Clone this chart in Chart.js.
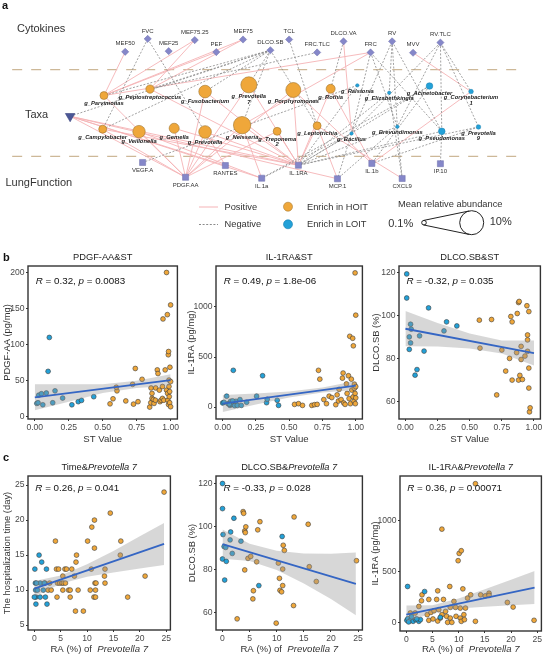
<!DOCTYPE html>
<html>
<head>
<meta charset="utf-8">
<script src="https://cdn.jsdelivr.net/npm/chart.js@4.4.1/dist/chart.umd.min.js"></script>
<style>
  html, body { margin: 0; padding: 0; background: #fff; }
  #wrap { position: relative; width: 546px; height: 656px; overflow: hidden; font-family: "Liberation Sans", Arial, sans-serif; }
  canvas { position: absolute; }
  .tag { position: absolute; font-weight: bold; font-size: 11px; line-height: 11px; color: #111; }
</style>
</head>
<body>
<div id="wrap">
  <canvas id="net" width="546" height="246" style="left:0;top:0"></canvas>
  <canvas id="p1"></canvas>
  <canvas id="p2"></canvas>
  <canvas id="p3"></canvas>
  <canvas id="p4"></canvas>
  <canvas id="p5"></canvas>
  <canvas id="p6"></canvas>
  <div class="tag" style="left:2px;top:0px">a</div>
  <div class="tag" style="left:3px;top:252px">b</div>
  <div class="tag" style="left:3px;top:452px">c</div>
</div>
<script>
// ── Network nodes (layout) ────────────────────────────────────────────
const topNames = ['MEF50', 'FVC', 'MEF25', 'MEF75.25', 'PEF', 'MEF75', 'DLCO.SB', 'TCL', 'FRC.TLC', 'DLCO.VA', 'FRC', 'RV', 'MVV', 'RV.TLC'];
const topX = [120, 143.3, 165, 192, 214.3, 242, 270.3, 289.7, 318.7, 346, 374, 396.3, 418, 446.3];
const topY = [46, 32, 45.3, 33.3, 46.3, 32.7, 44.3, 32.7, 46.7, 34.7, 46.7, 34.7, 47, 36];

const botNames = ['VEGF.A', 'PDGF.AA', 'RANTES', 'IL.1a', 'IL.1RA', 'MCP.1', 'IL.1b', 'CXCL9', 'IP.10'];
const botX = [138, 182.5, 223.7, 261.3, 299.3, 339.7, 375.3, 406.7, 446.3];
const botY = [165.7, 181.7, 169, 182.7, 168.7, 183.3, 166.7, 183, 167];

const taxaNames = ['Parvimonas', 'Peptostreptococcus', 'Fusobacterium', 'Prevotella 7', 'Porphyromonas', 'Rothia',
  'Ralstonia', 'Elizabethkingia', 'Acinetobacter', 'Corynebacterium 1',
  'Campylobacter', 'Veillonella', 'Gemella', 'Prevotella', 'Neisseria', 'Treponema 2', 'Leptotrichia',
  'Bacillus', 'Brevundimonas', 'Pseudomonas', 'Prevotella 9'];
const taxaX = [98, 145.7, 202.7, 248, 294, 332.7, 360.3, 393.3, 435, 478, 96.7, 134.3, 170.7, 202.7, 241, 277.3, 318.7, 354.3, 401.7, 447.7, 485.7];
const taxaY = [93.3, 86.3, 89, 81.7, 87.3, 86, 82.3, 90.3, 83, 89, 129.7, 132.3, 128.7, 132.7, 125.3, 132, 126, 134.3, 127, 132, 127.3];
const taxaAbund = [2.4, 2.6, 4.6, 6.2, 5.7, 2.9, 0.28, 0.28, 1.8, 0.84, 2.4, 4.5, 3.4, 4.6, 6.8, 2.4, 2.4, 0.28, 0.28, 1.8, 0.84];
const taxaGroup = ['H', 'H', 'H', 'H', 'H', 'H', 'L', 'L', 'L', 'L', 'H', 'H', 'H', 'H', 'H', 'H', 'H', 'L', 'L', 'L', 'L'];
const stNode = { name: 'ST', x: 63, y: 115.7 };

const posEdges = [
  ['MEF50', 'Parvimonas'], ['MEF75.25', 'Parvimonas'], ['PEF', 'Parvimonas'], ['MEF75', 'Parvimonas'],
  ['MEF75.25', 'Peptostreptococcus'], ['MEF75', 'Peptostreptococcus'], ['FRC', 'Parvimonas'],
  ['DLCO.VA', 'Bacillus'], ['MVV', 'Corynebacterium 1'], ['FRC', 'Neisseria'],
  ['ST', 'PDGF.AA'], ['ST', 'IL.1RA'], ['ST', 'RANTES'], ['ST', 'IL.1a'], ['ST', 'MCP.1'],
  ['Campylobacter', 'PDGF.AA'], ['Veillonella', 'PDGF.AA'], ['Veillonella', 'IL.1a'], ['Gemella', 'PDGF.AA'],
  ['Gemella', 'IL.1RA'], ['Prevotella', 'PDGF.AA'], ['Prevotella', 'IL.1RA'], ['Prevotella', 'RANTES'],
  ['Neisseria', 'IL.1RA'], ['Neisseria', 'IL.1a'], ['Neisseria', 'PDGF.AA'], ['Treponema 2', 'IL.1RA'],
  ['Treponema 2', 'PDGF.AA'], ['Leptotrichia', 'IL.1RA'], ['Leptotrichia', 'MCP.1'], ['Leptotrichia', 'CXCL9'],
  ['Porphyromonas', 'IL.1RA'], ['Porphyromonas', 'PDGF.AA'], ['Porphyromonas', 'IL.1b'],
  ['Prevotella 7', 'IL.1RA'], ['Prevotella 7', 'PDGF.AA'], ['Fusobacterium', 'IL.1RA'], ['Fusobacterium', 'PDGF.AA'],
  ['Parvimonas', 'PDGF.AA'], ['Peptostreptococcus', 'IL.1RA'], ['Rothia', 'IL.1b'], ['Rothia', 'IL.1RA'],
  ['Corynebacterium 1', 'IL.1b'], ['Campylobacter', 'IL.1RA']
];
const negEdges = [
  ['FVC', 'Campylobacter'], ['FVC', 'Prevotella'], ['DLCO.SB', 'Parvimonas'], ['DLCO.SB', 'Peptostreptococcus'],
  ['DLCO.SB', 'ST'], ['DLCO.SB', 'Fusobacterium'], ['DLCO.SB', 'Prevotella 7'], ['DLCO.SB', 'Neisseria'],
  ['DLCO.SB', 'Leptotrichia'], ['DLCO.SB', 'Campylobacter'], ['TCL', 'Leptotrichia'], ['FRC.TLC', 'Peptostreptococcus'],
  ['DLCO.VA', 'Rothia'], ['FRC', 'Bacillus'], ['FRC', 'Brevundimonas'], ['FRC', 'Pseudomonas'],
  ['RV', 'Bacillus'], ['RV', 'Brevundimonas'], ['RV', 'Pseudomonas'], ['RV', 'Elizabethkingia'],
  ['RV.TLC', 'Pseudomonas'], ['RV.TLC', 'Prevotella 9'], ['RV.TLC', 'Corynebacterium 1'], ['RV.TLC', 'Bacillus'],
  ['RV.TLC', 'Brevundimonas'],
  ['Ralstonia', 'VEGF.A'], ['Ralstonia', 'IL.1RA'], ['Bacillus', 'IL.1RA'], ['Brevundimonas', 'IL.1RA'],
  ['Pseudomonas', 'IL.1RA'], ['Prevotella 9', 'IL.1RA'], ['Acinetobacter', 'IL.1RA'], ['Elizabethkingia', 'IL.1RA'],
  ['Elizabethkingia', 'CXCL9'], ['Brevundimonas', 'CXCL9'], ['Brevundimonas', 'MCP.1'], ['Bacillus', 'MCP.1'],
  ['Pseudomonas', 'IP.10'], ['Acinetobacter', 'IL.1b'], ['Prevotella 9', 'IL.1b'], ['Bacillus', 'IL.1a'],
  ['Acinetobacter', 'IL.1a']
];

// ── Panel b: ST value ─────────────────────────────────────────────────
const stTicks = [0, 0.25, 0.5, 0.75, 1];
const stLabels = ['0.00', '0.25', '0.50', '0.75', '1.00'];

const pdgfLoX = [0.015, 0.024, 0.029, 0.049, 0.059, 0.085, 0.098, 0.107, 0.132, 0.149, 0.205, 0.273, 0.32, 0.344, 0.434];
const pdgfLoY = [18.6, 19.5, 30, 32, 16.7, 33, 63, 110, 19.5, 36, 26, 16.7, 21, 22.8, 27.9];
const pdgfHiX = [0.554, 0.576, 0.605, 0.60, 0.67, 0.727, 0.74, 0.76, 0.79, 0.846, 0.854, 0.856, 0.863, 0.863, 0.873, 0.878, 0.888, 0.89, 0.902, 0.907, 0.917, 0.922, 0.93, 0.94, 0.94, 0.944, 0.95, 0.96, 0.97, 0.976, 0.978, 0.98, 0.983, 0.985, 0.985, 0.988, 0.99, 0.993, 0.995, 1.0, 1.0, 1.0, 0.993, 0.988, 0.97, 0.72];
const pdgfHiY = [18, 25, 36, 41, 22, 17.6, 67, 21, 52, 13.5, 19.5, 40, 32.5, 25.5, 24, 18.6, 23, 40, 65, 60, 37, 21, 23, 42, 25.5, 135.6, 23, 65, 37, 141.6, 32.5, 23, 86, 90.5, 17, 51, 28, 19.5, 68.7, 14, 155, 48.8, 35, 42, 200, 45];
const pdgfFitX = [0, 1], pdgfFitY = [27, 51];
const pdgfBandX = [0, 0.25, 0.5, 0.75, 1];
const pdgfBandHi = [45, 45, 45, 50, 59], pdgfBandLo = [9, 21, 33, 40, 43];
const pdgfTicks = [0, 50, 100, 150, 200];

const ilLoX = [0, 0.01, 0.03, 0.04, 0.055, 0.06, 0.07, 0.08, 0.09, 0.1, 0.11, 0.13, 0.14, 0.18, 0.255, 0.3, 0.33, 0.335, 0.41, 0.42, 0.05, 0.075];
const ilLoY = [41, 48, 109, 34, 17, 58, 27, 367, 14, 58, 17, 75, 17, 48, 109, 313, 44, 78, 68, 17, 30, 62];
const ilHiX = [0.54, 0.57, 0.6, 0.67, 0.69, 0.71, 0.72, 0.73, 0.76, 0.78, 0.8, 0.82, 0.85, 0.86, 0.87, 0.875, 0.89, 0.9, 0.905, 0.91, 0.92, 0.93, 0.935, 0.945, 0.95, 0.955, 0.96, 0.967, 0.97, 0.977, 0.98, 0.982, 0.987, 0.99, 0.99, 0.995, 0.997, 1.0, 1.0, 1.0, 0.995];
const ilHiY = [27, 34, 17, 17, 24, 27, 367, 279, 75, 34, 109, 95, 24, 122, 61, 177, 75, 289, 340, 41, 27, 231, 136, 313, 85, 707, 34, 279, 170, 687, 102, 612, 58, 228, 187, 136, 34, 918, 204, 92, 1340];
const ilFitX = [0, 1], ilFitY = [35, 215];
const ilBandX = [0, 0.25, 0.5, 0.75, 1];
const ilBandHi = [120, 135, 155, 195, 260], ilBandLo = [-50, 25, 95, 145, 170];
const ilTicks = [0, 500, 1000];

const dlLoX = [0.01, 0.01, 0.04, 0.03, 0.04, 0.03, 0.045, 0.075, 0.09, 0.11, 0.145, 0.18, 0.3, 0.32, 0.4];
const dlLoY = [119.5, 108.3, 96.1, 90.2, 87.4, 84.4, 93.8, 72.4, 75, 90.7, 83.6, 103.7, 93, 97.2, 95.3];
const dlHiX = [0.575, 0.58, 0.67, 0.75, 0.71, 0.78, 0.81, 0.82, 0.83, 0.83, 0.865, 0.87, 0.88, 0.88, 0.885, 0.89, 0.9, 0.9, 0.91, 0.93, 0.945, 0.95, 0.95, 0.95, 0.96, 0.96, 0.96, 0.965, 0.97];
const dlHiY = [98, 85, 98.3, 84.1, 63.2, 74.3, 80.2, 99.7, 97.2, 70.1, 82.9, 101.1, 70.1, 106.2, 106.7, 72.3, 85.8, 79.7, 70.4, 81.3, 104.7, 88.8, 83.5, 91.1, 66.4, 102, 75.7, 55.3, 57.2];
const dlFitX = [0, 1], dlFitY = [94, 82.7];
const dlBandX = [0, 0.25, 0.5, 0.75, 1];
const dlBandHi = [102.3, 96.7, 91.8, 88.5, 88.5], dlBandLo = [85.8, 85.7, 84.8, 82.5, 76.9];
const dlTicks = [60, 80, 100, 120];

// ── Panel c: RA (%) of Prevotella 7 ───────────────────────────────────
const raTicks = [0, 5, 10, 15, 20, 25];

const timeLoX = [0.1, 0.2, 0.25, 0.3, 0.3, 0.6, 0.9, 1.1, 1.1, 1.4, 1.7, 1.9, 2.1, 2.3, 2.4, 0, 0.4];
const timeLoY = [13, 11, 10, 9, 8, 10, 15, 11, 9, 14, 10, 11, 9, 13, 8, 9, 11];
const timeHiX = [2, 2.6, 2.9, 3.2, 4, 4.2, 4.3, 4.4, 4.6, 4.8, 5.2, 5.4, 5.4, 5.5, 5.8, 5.9, 6.1, 6.5, 6.8, 6.8, 7.1, 7.6, 7.8, 7.9, 8, 8.3, 9.3, 10.1, 10.6, 10.8, 10.9, 11.3, 11.4, 11.4, 11.5, 11.6, 11.7, 11.6, 14.4, 16.4, 16.3, 13.4, 13.3, 13.4, 21, 17.7, 24.6];
const timeHiY = [11, 10, 11, 10, 17, 13, 9, 11, 13, 11, 11, 12, 10, 11, 13, 11, 13, 10, 9, 10, 13, 12, 7, 14, 15, 10, 7, 17, 10, 13, 19, 9, 16, 20, 11, 10, 11, 9, 21, 17, 15, 13, 12, 11, 12, 9, 24];
const timeFitX = [0, 24.6], timeFitY = [10.2, 16.6];
const timeBandX = [0, 5, 10, 15, 20, 24.6];
const timeBandHi = [11.3, 12.1, 13.7, 15.6, 17.7, 19.6], timeBandLo = [9.1, 10.9, 11.9, 12.5, 13.1, 13.6];
const timeTicks = [5, 10, 15, 20, 25];

const dl7LoX = [0, 0, 0.1, 0, 0.3, 0.6, 0.7, 0.4, 1.5, 1.4, 1.8, 2.1, 3.4, 11, 6.7];
const dl7LoY = [120, 108.3, 96.2, 84.8, 90.6, 90.2, 83.7, 75, 97.4, 93.7, 87.4, 103.8, 93.1, 95.3, 72.4];
const dl7HiX = [2.7, 3.8, 3.9, 4.1, 4.2, 4.3, 4.1, 4.7, 5.2, 5.6, 5.7, 6.3, 6.5, 6.9, 9.9, 10.3, 10.5, 10.6, 10.9, 11.1, 11.1, 11.2, 11.4, 13.2, 13.1, 15.8, 16, 17.3, 24.7];
const dl7HiY = [56.9, 106.9, 106.1, 97.9, 97.1, 99.8, 79.7, 85.1, 86, 66.2, 70, 83.5, 98.4, 102.2, 54.9, 82.9, 75.8, 70.2, 69.5, 72.4, 80.1, 91.2, 88.8, 104.4, 63.1, 101, 81.2, 74.3, 84];
const dl7FitX = [0, 24.6], dl7FitY = [91.7, 73.2];
const dl7BandX = [0, 5, 10, 15, 20, 24.6];
const dl7BandHi = [98.5, 91.9, 88.7, 87.4, 87.2, 87.8], dl7BandLo = [84.9, 83.9, 79.7, 73.4, 66.2, 58.6];

const il7LoX = [0.25, 3.5, 0.1, 0.3, 0.8, 1.3, 1.8, 2.4, 2.7, 0.45, 6.5, 1.0, 2.0];
const il7LoY = [355, 306, 26, 42, 26, 16, 32, 16, 32, 10, 55, 60, 40];
const il7HiX = [13.2, 6.8, 10.1, 10.5, 9.9, 3, 2.9, 6, 8.3, 10.8, 14.2, 15.1, 15.8, 15.8, 19.3, 20.4, 24.4, 4.3, 5.8, 7.1, 9.1, 10.3, 11.3, 11.7, 12.3, 13.2, 2.4, 0.77, 1.7, 4, 4.7, 5.3, 6.2, 7.5, 8.4, 9.4, 11, 6.8, 7.7, 8.4, 9.5, 10.3, 10.5, 11.1, 4.3, 5.1, 6, 6.5, 7.9, 8.7];
const il7HiY = [1355, 913, 677, 703, 606, 274, 216, 313, 355, 332, 274, 264, 290, 268, 200, 155, 26, 229, 229, 229, 210, 145, 145, 242, 274, 16, 161, 97, 97, 81, 103, 119, 129, 113, 152, 152, 81, 81, 65, 48, 65, 48, 16, 32, 26, 39, 19, 48, 6, 6];
const il7FitX = [0, 24.5], il7FitY = [81, 345];
const il7BandX = [0, 5, 10, 15, 20, 24.5];
const il7BandHi = [170, 173, 238, 328, 421, 506], il7BandLo = [10, 97, 140, 158, 173, 184];

// ── Styles ────────────────────────────────────────────────────────────
const FONT = '"Liberation Sans", Arial, sans-serif';
const ORANGE = '#efa73a', BLUE = '#23a1d8';
const FIT = '#3566c4', BAND = 'rgba(150,150,150,0.38)';
const TICK = '#4a4a4a';
const NODE = '#8587c9', NODE_EDGE = '#6b6dab';
const PINK = '#f5b3b6', GRAY = '#8a8a8a';

const zip = (xs, ys) => xs.map((x, i) => ({ x, y: ys[i] }));
const radiusOf = a => 1.4 + 1.07 * a;

function rich(ctx, parts, x, y, size, align, color, weight) {
  const fontOf = it => `${it ? 'italic ' : ''}${weight || 'normal'} ${size}px ${FONT}`;
  let total = 0;
  const ws = parts.map(([t, it]) => { ctx.font = fontOf(it); const w = ctx.measureText(t).width; total += w; return w; });
  let cx = align === 'center' ? x - total / 2 : x;
  ctx.fillStyle = color;
  ctx.textBaseline = 'middle';
  ctx.textAlign = 'left';
  parts.forEach(([t, it], i) => { ctx.font = fontOf(it); ctx.fillText(t, cx, y); cx += ws[i]; });
}

// ── Network ───────────────────────────────────────────────────────────
const nodePos = {};
topNames.forEach((n, i) => { nodePos[n] = { x: topX[i], y: topY[i] }; });
botNames.forEach((n, i) => { nodePos[n] = { x: botX[i], y: botY[i] }; });
taxaNames.forEach((n, i) => { nodePos[n] = { x: taxaX[i], y: taxaY[i] }; });
nodePos[stNode.name] = { x: stNode.x, y: stNode.y };

const edgeSet = (list, pos) => list.map(([a, b]) => ({
  type: 'line',
  data: [nodePos[a], nodePos[b]],
  borderColor: pos ? PINK : GRAY,
  borderWidth: pos ? 0.9 : 0.8,
  borderDash: pos ? [] : [2, 1.6],
  pointRadius: 0,
  order: pos ? 20 : 10
}));

const hiIdx = taxaGroup.map((g, i) => g === 'H' ? i : -1).filter(i => i >= 0);
const loIdx = taxaGroup.map((g, i) => g === 'L' ? i : -1).filter(i => i >= 0);

const netDecor = {
  id: 'netDecor',
  beforeDatasetsDraw(chart) {
    const { ctx } = chart;
    const sx = chart.scales.x, sy = chart.scales.y;
    ctx.save();
    ctx.strokeStyle = '#cdb898';
    ctx.lineWidth = 1.2;
    ctx.setLineDash([10, 9]);
    [65.3, 159].forEach(v => {
      ctx.beginPath();
      ctx.moveTo(sx.getPixelForValue(3), sy.getPixelForValue(v));
      ctx.lineTo(sx.getPixelForValue(530), sy.getPixelForValue(v));
      ctx.stroke();
    });
    ctx.restore();
  },
  afterDatasetsDraw(chart) {
    const { ctx } = chart;
    const px = v => chart.scales.x.getPixelForValue(v);
    const py = v => chart.scales.y.getPixelForValue(v);
    ctx.save();
    // row headers
    rich(ctx, [['Cytokines', 0]], 17, 29, 11, 'left', '#333');
    rich(ctx, [['Taxa', 0]], 25, 115, 11, 'left', '#333');
    rich(ctx, [['LungFunction', 0]], 5.5, 182.7, 11, 'left', '#333');
    // node labels
    topNames.forEach((n, i) => rich(ctx, [[n, 0]], px(topX[i]), py(topY[i]) - 8, 6, 'center', '#333'));
    botNames.forEach((n, i) => rich(ctx, [[n, 0]], px(botX[i]), py(botY[i]) + 7.8, 6, 'center', '#333'));
    taxaNames.forEach((n, i) => {
      const lines = ('g_' + n).split(' ');
      const y0 = py(taxaY[i]) + radiusOf(taxaAbund[i]) + 4;
      lines.forEach((t, k) => rich(ctx, [[t, 1]], px(taxaX[i]), y0 + k * 5.6, 5.8, 'center', '#222', 'bold'));
    });
    // legend
    ctx.lineWidth = 1;
    ctx.strokeStyle = PINK;
    ctx.beginPath(); ctx.moveTo(199, 207); ctx.lineTo(218, 207); ctx.stroke();
    ctx.strokeStyle = GRAY; ctx.setLineDash([2, 1.6]);
    ctx.beginPath(); ctx.moveTo(199, 224.5); ctx.lineTo(218, 224.5); ctx.stroke();
    ctx.setLineDash([]);
    rich(ctx, [['Positive', 0]], 224.5, 207.3, 9.3, 'left', '#333');
    rich(ctx, [['Negative', 0]], 224.5, 224.5, 9.3, 'left', '#333');
    [[206.7, ORANGE, 'Enrich in HOIT'], [224.3, BLUE, 'Enrich in LOIT']].forEach(([y, c, t]) => {
      ctx.beginPath(); ctx.arc(288, y, 4.5, 0, Math.PI * 2);
      ctx.fillStyle = c; ctx.fill();
      ctx.strokeStyle = c === ORANGE ? '#a77b32' : '#1a80b0'; ctx.lineWidth = 0.6; ctx.stroke();
      rich(ctx, [[t, 0]], 307, y + 0.3, 9.3, 'left', '#333');
    });
    rich(ctx, [['Mean relative abundance', 0]], 450.3, 204.7, 9.3, 'center', '#333');
    rich(ctx, [['0.1%', 0]], 400.7, 224.3, 11, 'center', '#333');
    rich(ctx, [['10%', 0]], 500.7, 222.3, 11, 'center', '#333');
    const c1 = { x: 424, y: 222.7, r: 2.3 }, c2 = { x: 471.7, y: 222.7, r: 12 };
    const al = Math.acos((c1.r - c2.r) / (c2.x - c1.x));
    ctx.strokeStyle = '#222'; ctx.lineWidth = 1;
    [c1, c2].forEach(c => { ctx.beginPath(); ctx.arc(c.x, c.y, c.r, 0, Math.PI * 2); ctx.stroke(); });
    [-1, 1].forEach(s => {
      ctx.beginPath();
      ctx.moveTo(c1.x + c1.r * Math.cos(al), c1.y + s * c1.r * Math.sin(al));
      ctx.lineTo(c2.x + c2.r * Math.cos(al), c2.y + s * c2.r * Math.sin(al));
      ctx.stroke();
    });
    ctx.restore();
  }
};

new Chart(document.getElementById('net'), {
  type: 'scatter',
  data: {
    datasets: [
      ...edgeSet(negEdges, false),
      ...edgeSet(posEdges, true),
      { data: zip(topX, topY), pointStyle: 'rectRot', pointRadius: 3.6, pointBackgroundColor: NODE, pointBorderColor: NODE_EDGE, pointBorderWidth: 0.5, order: 0 },
      { data: zip(botX, botY), pointStyle: 'rect', pointRadius: 4.3, pointBackgroundColor: NODE, pointBorderColor: NODE_EDGE, pointBorderWidth: 0.5, order: 0 },
      { data: hiIdx.map(i => ({ x: taxaX[i], y: taxaY[i] })), pointRadius: hiIdx.map(i => radiusOf(taxaAbund[i])), pointBackgroundColor: ORANGE, pointBorderColor: '#a07630', pointBorderWidth: 0.6, order: 0 },
      { data: loIdx.map(i => ({ x: taxaX[i], y: taxaY[i] })), pointRadius: loIdx.map(i => radiusOf(taxaAbund[i])), pointBackgroundColor: BLUE, pointBorderColor: '#1a80b0', pointBorderWidth: 0.5, order: 0 },
      { data: [{ x: stNode.x, y: stNode.y }], pointStyle: 'triangle', pointRotation: 180, pointRadius: 5.5, pointBackgroundColor: '#4b5796', pointBorderColor: '#3a4580', pointBorderWidth: 0.6, order: 0 }
    ]
  },
  options: {
    responsive: false, animation: false, events: [],
    layout: { padding: 0 },
    plugins: { legend: { display: false }, tooltip: { enabled: false } },
    scales: {
      x: { type: 'linear', display: false, min: 0, max: 546 },
      y: { type: 'linear', display: false, min: 0, max: 246, reverse: true }
    }
  },
  plugins: [netDecor]
});

// ── Scatter panels ────────────────────────────────────────────────────
function scatterChart(id, g, s) {
  const cv = document.getElementById(id);
  const left = g.L - g.yw, top = g.T - 16;
  cv.width = g.R + g.pr - left;
  cv.height = g.B + g.xh - top;
  cv.style.left = left + 'px';
  cv.style.top = top + 'px';
  const pts = col => ({ pointRadius: 2.4, pointBackgroundColor: col, pointBorderColor: '#3a3a3a', pointBorderWidth: 0.6 });
  const frame = {
    id: 'frame',
    afterDraw(chart) {
      const { ctx, chartArea: a } = chart;
      ctx.save();
      ctx.strokeStyle = '#333';
      ctx.lineWidth = 1.4;
      ctx.strokeRect(a.left, a.top, a.right - a.left, a.bottom - a.top);
      rich(ctx, s.title, (a.left + a.right) / 2, a.top - 8.5, 9.3, 'center', '#222');
      rich(ctx, s.stat, chart.scales.x.getPixelForValue(0) + 1, a.top + g.ry, 9.8, 'left', '#111');
      rich(ctx, s.xTitle, (a.left + a.right) / 2, a.bottom + g.xt, 9.6, 'center', '#333');
      ctx.translate(a.left + g.yt, (a.top + a.bottom) / 2);
      ctx.rotate(-Math.PI / 2);
      rich(ctx, s.yTitle, 0, 0, 9.4, 'center', '#333');
      ctx.restore();
    }
  };
  const axis = (min, max, ticks, labels, fit) => ({
    type: 'linear', min, max,
    afterBuildTicks: sc => { sc.ticks = ticks.map(v => ({ value: v })); },
    afterFit: fit,
    ticks: { callback: (v, i) => labels[i], font: { family: FONT, size: 8.6 }, color: TICK, padding: 1.5, maxRotation: 0, autoSkip: false },
    grid: { drawOnChartArea: false, tickLength: 2, color: '#333', lineWidth: 1 },
    border: { display: false }
  });
  new Chart(cv, {
    type: 'scatter',
    data: {
      datasets: [
        { type: 'line', data: zip(s.fitX, s.fitY), borderColor: FIT, borderWidth: 1.8, pointRadius: 0, order: 0 },
        { type: 'line', data: zip(s.bandX, s.bandHi), borderColor: 'rgba(0,0,0,0)', pointRadius: 0, fill: '+1', backgroundColor: BAND, order: 1 },
        { type: 'line', data: zip(s.bandX, s.bandLo), borderColor: 'rgba(0,0,0,0)', pointRadius: 0, fill: false, order: 2 },
        { data: zip(s.lx, s.ly), ...pts(BLUE), order: 3 },
        { data: zip(s.hx, s.hy), ...pts(ORANGE), order: 4 }
      ]
    },
    options: {
      responsive: false, animation: false, events: [],
      layout: { padding: { top: 16, right: g.pr, left: 0, bottom: 0 } },
      plugins: { legend: { display: false }, tooltip: { enabled: false } },
      scales: {
        x: axis(s.xMin, s.xMax, s.xTicks, s.xLabels, sc => { sc.height = g.xh; }),
        y: axis(s.yMin, s.yMax, s.yTicks, s.yTicks.map(String), sc => { sc.width = g.yw; })
      }
    },
    plugins: [frame]
  });
}

const raTitle = [['RA (%) of  ', 0], ['Prevotella 7', 1]];
const stat = (r, p) => [['R', 1], [` = ${r}, `, 0], ['p', 1], [` = ${p}`, 0]];

scatterChart('p1', { L: 28, T: 266, R: 178, B: 419, yw: 28, pr: 4, xh: 36, yt: -21, xt: 20.5, ry: 15 }, {
  lx: pdgfLoX, ly: pdgfLoY, hx: pdgfHiX, hy: pdgfHiY, fitX: pdgfFitX, fitY: pdgfFitY,
  bandX: pdgfBandX, bandHi: pdgfBandHi, bandLo: pdgfBandLo,
  xMin: -0.05, xMax: 1.05, xTicks: stTicks, xLabels: stLabels, yMin: -3, yMax: 209, yTicks: pdgfTicks,
  title: [['PDGF-AA&ST', 0]], stat: stat('0.32', '0.0083'), xTitle: [['ST Value', 0]], yTitle: [['PDGF-AA (pg/mg)', 0]]
});
scatterChart('p2', { L: 216, T: 266, R: 363, B: 419, yw: 32, pr: 4, xh: 36, yt: -25, xt: 20.5, ry: 15 }, {
  lx: ilLoX, ly: ilLoY, hx: ilHiX, hy: ilHiY, fitX: ilFitX, fitY: ilFitY,
  bandX: ilBandX, bandHi: ilBandHi, bandLo: ilBandLo,
  xMin: -0.05, xMax: 1.05, xTicks: stTicks, xLabels: stLabels, yMin: -119, yMax: 1409, yTicks: ilTicks,
  title: [['IL-1RA&ST', 0]], stat: stat('0.49', '1.8e-06'), xTitle: [['ST Value', 0]], yTitle: [['IL-1RA (pg/mg)', 0]]
});
scatterChart('p3', { L: 399, T: 266, R: 542, B: 419, yw: 33, pr: 3, xh: 36, yt: -23, xt: 20.5, ry: 15 }, {
  lx: dlLoX, ly: dlLoY, hx: dlHiX, hy: dlHiY, fitX: dlFitX, fitY: dlFitY,
  bandX: dlBandX, bandHi: dlBandHi, bandLo: dlBandLo,
  xMin: -0.05, xMax: 1.05, xTicks: stTicks, xLabels: stLabels, yMin: 52, yMax: 123.2, yTicks: dlTicks,
  title: [['DLCO.SB&ST', 0]], stat: stat('-0.32', '0.035'), xTitle: [['ST Value', 0]], yTitle: [['DLCO.SB (%)', 0]]
});
scatterChart('p4', { L: 28, T: 476, R: 171, B: 630, yw: 28, pr: 4, xh: 26, yt: -20.5, xt: 19, ry: 12.5 }, {
  lx: timeLoX, ly: timeLoY, hx: timeHiX, hy: timeHiY, fitX: timeFitX, fitY: timeFitY,
  bandX: timeBandX, bandHi: timeBandHi, bandLo: timeBandLo,
  xMin: -1.2, xMax: 25.8, xTicks: raTicks, xLabels: raTicks.map(String), yMin: 4.3, yMax: 26.3, yTicks: timeTicks,
  title: [['Time&', 0], ['Prevotella 7', 1]], stat: stat('0.26', '0.041'), xTitle: raTitle, yTitle: [['The hospitalization time (day)', 0]]
});
scatterChart('p5', { L: 216, T: 476, R: 363, B: 630, yw: 32, pr: 4, xh: 26, yt: -24, xt: 19, ry: 12.5 }, {
  lx: dl7LoX, ly: dl7LoY, hx: dl7HiX, hy: dl7HiY, fitX: dl7FitX, fitY: dl7FitY,
  bandX: dl7BandX, bandHi: dl7BandHi, bandLo: dl7BandLo,
  xMin: -1.2, xMax: 25.8, xTicks: raTicks, xLabels: raTicks.map(String), yMin: 51.7, yMax: 123.5, yTicks: dlTicks,
  title: [['DLCO.SB&', 0], ['Prevotella 7', 1]], stat: stat('-0.33', '0.028'), xTitle: raTitle, yTitle: [['DLCO.SB (%)', 0]]
});
scatterChart('p6', { L: 400, T: 476, R: 543, B: 631, yw: 33, pr: 3, xh: 25, yt: -25, xt: 18, ry: 12.5 }, {
  lx: il7LoX, ly: il7LoY, hx: il7HiX, hy: il7HiY, fitX: il7FitX, fitY: il7FitY,
  bandX: il7BandX, bandHi: il7BandHi, bandLo: il7BandLo,
  xMin: -1.2, xMax: 25.8, xTicks: raTicks, xLabels: raTicks.map(String), yMin: -78, yMax: 1430, yTicks: ilTicks,
  title: [['IL-1RA&', 0], ['Prevotella 7', 1]], stat: stat('0.36', '0.00071'), xTitle: raTitle, yTitle: [['IL-1RA (pg/mg)', 0]]
});
</script>
</body>
</html>
